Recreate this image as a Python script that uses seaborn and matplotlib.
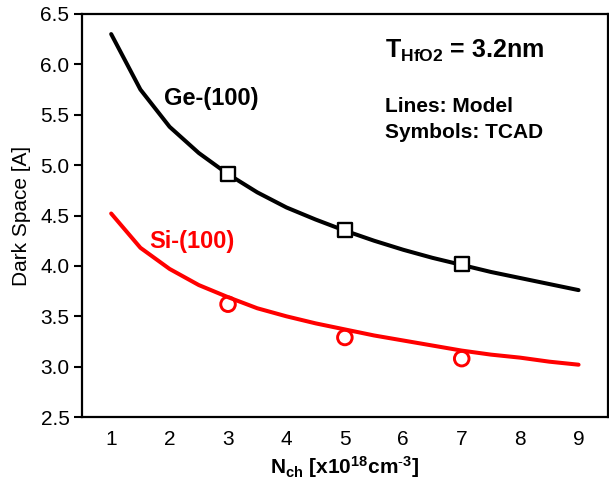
import matplotlib
matplotlib.use("Agg")
import matplotlib.pyplot as plt
import seaborn as sns
import pandas as pd

# Model curves
n_model = [1, 1.5, 2, 2.5, 3, 3.5, 4, 4.5, 5, 5.5, 6, 6.5, 7, 7.5, 8, 8.5, 9]
ge_model = [6.30, 5.75, 5.38, 5.12, 4.91, 4.73, 4.58, 4.46, 4.35, 4.25, 4.16, 4.08, 4.01, 3.94, 3.88, 3.82, 3.76]
si_model = [4.52, 4.18, 3.97, 3.81, 3.69, 3.58, 3.50, 3.43, 3.37, 3.31, 3.26, 3.21, 3.16, 3.12, 3.09, 3.05, 3.02]

# TCAD symbols
n_tcad = [3, 5, 7]
ge_tcad = [4.91, 4.36, 4.02]
si_tcad = [3.62, 3.29, 3.08]

x_ticks = [1, 2, 3, 4, 5, 6, 7, 8, 9]
y_ticks = [2.5, 3.0, 3.5, 4.0, 4.5, 5.0, 5.5, 6.0, 6.5]

sns.set_style("white")
plt.rcParams['font.family'] = ['Liberation Sans', 'DejaVu Sans']
plt.rcParams['mathtext.fontset'] = 'custom'
plt.rcParams['mathtext.rm'] = 'Liberation Sans'
plt.rcParams['mathtext.bf'] = 'Liberation Sans:bold'
plt.rcParams['mathtext.it'] = 'Liberation Sans:italic'
plt.rcParams['text.color'] = 'black'
plt.rcParams['axes.labelcolor'] = 'black'
plt.rcParams['xtick.color'] = 'black'
plt.rcParams['ytick.color'] = 'black'

fig = plt.figure(figsize=(6.09, 4.8), dpi=100)
ax = fig.add_axes([0.1346, 0.131, 0.8634, 0.840])

df_ge = pd.DataFrame({"n": n_model, "v": ge_model})
df_si = pd.DataFrame({"n": n_model, "v": si_model})
sns.lineplot(data=df_ge, x="n", y="v", color="black", linewidth=2.9, ax=ax)
sns.lineplot(data=df_si, x="n", y="v", color="#ff0000", linewidth=2.9, ax=ax)

dt_ge = pd.DataFrame({"n": n_tcad, "v": ge_tcad})
dt_si = pd.DataFrame({"n": n_tcad, "v": si_tcad})
sns.scatterplot(data=dt_ge, x="n", y="v", marker="s", s=90, facecolor="white",
                edgecolor="black", linewidth=1.7, ax=ax, zorder=5)
sns.scatterplot(data=dt_si, x="n", y="v", marker="o", s=110, facecolor="none",
                edgecolor="#ff0000", linewidth=2.1, ax=ax, zorder=5)

ax.set_xlim(0.5, 9.5)
ax.set_ylim(2.5, 6.5)
ax.set_xticks(x_ticks)
ax.set_yticks(y_ticks)
ax.set_xticklabels([str(t) for t in x_ticks])
ax.set_yticklabels([f"{t:.1f}" for t in y_ticks])
ax.tick_params(axis='x', direction='in', length=7, width=1.5, labelsize=15, pad=9, colors='black')
ax.tick_params(axis='y', direction='out', length=6, width=1.5, labelsize=15, pad=3, left=True, colors='black')
for s in ax.spines.values():
    s.set_linewidth(1.6)
    s.set_color("black")

ax.set_xlabel(r"N$_{\mathbf{ch}}$ [x10$^{\mathbf{18}}$cm$^{\mathbf{\text{-}3}}$]", fontsize=15, fontweight="bold", labelpad=4, color="black")
ax.set_ylabel("Dark Space [A]", fontsize=15, labelpad=7, color="black")

ax.text(2.72, 5.66, "Ge-(100)", fontsize=17, fontweight="bold", color="black", ha="center", va="center")
ax.text(2.38, 4.24, "Si-(100)", fontsize=17, fontweight="bold", color="#ff0000", ha="center", va="center")
ax.text(5.69, 6.06, r"T$_{\mathbf{HfO2}}$ = 3.2nm", fontsize=18, fontweight="bold", ha="left", va="baseline", color="black")
ax.text(5.69, 5.58, "Lines: Model", fontsize=15, fontweight="bold", ha="left", va="center", color="black")
ax.text(5.69, 5.32, "Symbols: TCAD", fontsize=15, fontweight="bold", ha="left", va="center", color="black")

fig.savefig("out.png", dpi=100)
